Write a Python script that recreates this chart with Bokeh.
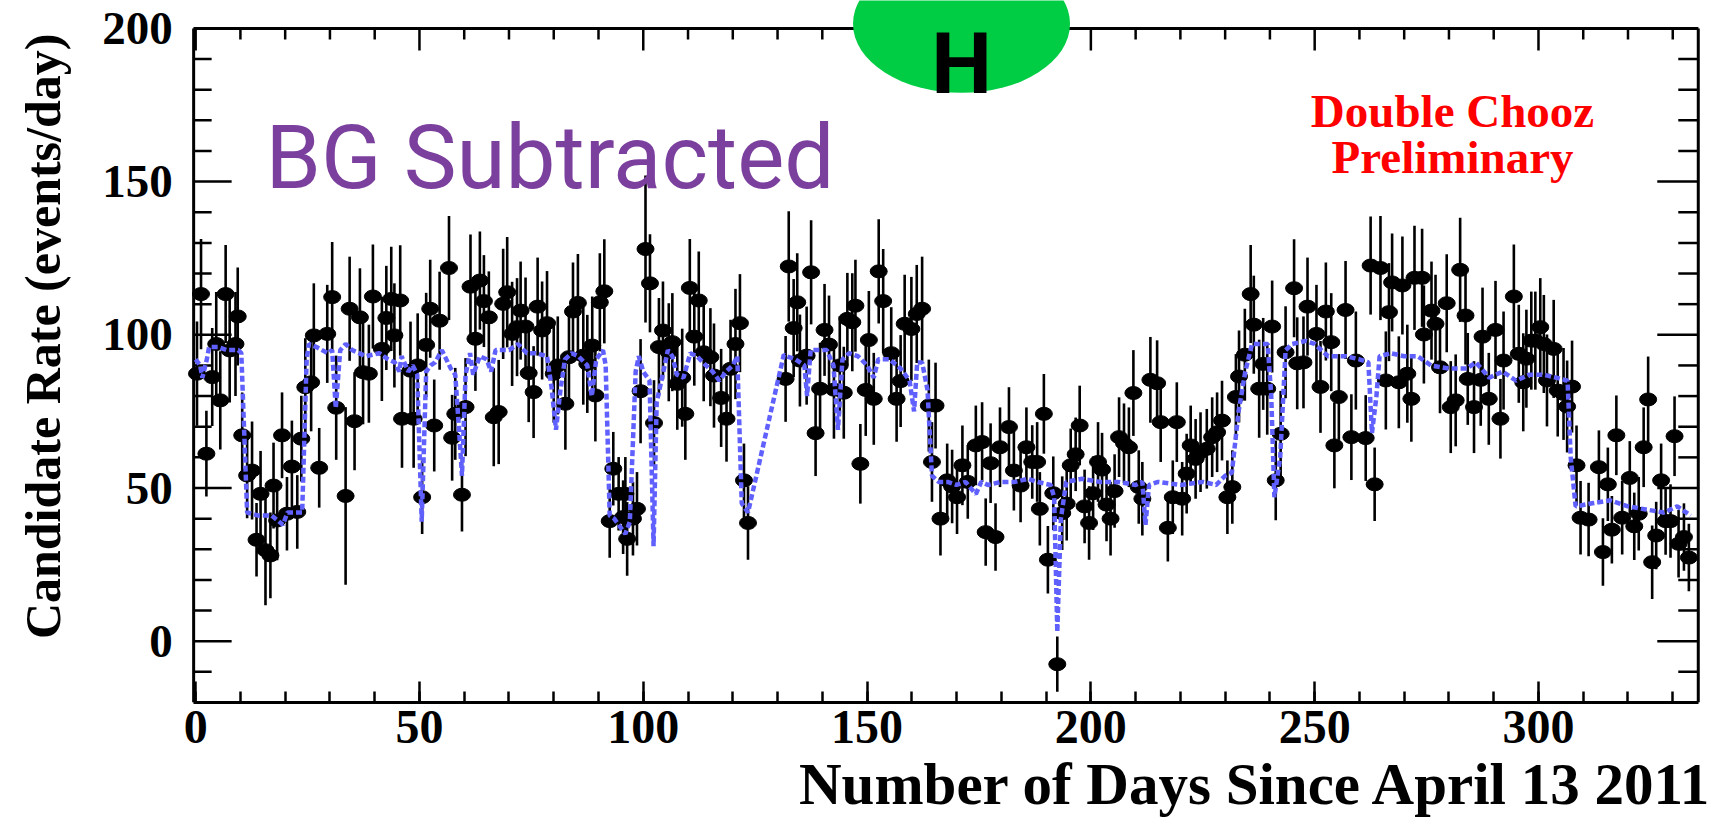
import numpy as np
from bokeh.plotting import figure
from bokeh.models import Range1d, FixedTicker, Label, Title, ColumnDataSource
from bokeh.embed import file_html
from bokeh.resources import INLINE

# ---- data ----
days = [
    0.3, 1.2, 2.4, 3.7, 4.6, 5.5, 6.7, 7.6, 8.9, 9.4,
    10.4, 11.5, 12.6, 13.6, 14.5, 15.6, 16.7, 17.4, 18.2, 19.3,
    20.4, 21.5, 22.7, 23.6, 24.5, 25.8, 26.4, 27.6, 29.4, 30.5,
    31.4, 33.5, 34.4, 35.5, 36.7, 37.4, 38.7, 39.6, 41.6, 42.6,
    43.7, 44.4, 45.7, 46.1, 48.0, 48.7, 49.6, 50.6, 51.5, 52.4,
    53.3, 54.5, 56.6, 57.3, 58.0, 59.5, 60.3, 61.4, 62.5, 63.5,
    64.4, 65.5, 66.6, 67.7, 68.7, 69.6, 70.7, 71.8, 72.6, 73.7,
    74.4, 75.5, 76.4, 77.4, 78.5, 80.0, 80.9, 82.6, 83.4, 84.3,
    85.4, 86.6, 87.5, 88.6, 89.3, 90.3, 91.3, 92.5, 93.3, 94.5,
    95.5, 96.0, 96.4, 97.7, 98.6, 99.4, 100.5, 101.5, 102.4, 103.5,
    104.4, 105.7, 106.5, 107.6, 108.7, 109.4, 110.4, 111.4, 112.4, 113.5,
    115.0, 115.8, 117.4, 118.6, 119.5, 120.6, 121.6, 122.5, 123.4, 131.8,
    132.5, 133.6, 134.4, 135.0, 136.5, 137.5, 138.5, 139.5, 140.5, 141.5,
    142.6, 143.9, 144.8, 145.6, 146.7, 147.4, 148.5, 149.7, 150.4, 151.5,
    152.6, 153.6, 155.4, 156.6, 157.5, 158.4, 159.9, 161.1, 162.3, 163.8,
    164.5, 165.3, 166.4, 167.9, 169.0, 170.1, 171.3, 172.5, 174.3, 175.7,
    176.5, 177.6, 178.7, 179.7, 181.7, 182.8, 184.3, 185.6, 186.9, 188.0,
    188.6, 189.5, 190.4, 191.6, 192.5, 193.6, 194.6, 195.5, 196.6, 197.5,
    198.6, 199.6, 200.5, 201.6, 202.5, 203.5, 204.4, 205.3, 206.3, 207.4,
    208.5, 209.5, 210.7, 211.5, 213.3, 214.8, 215.6, 217.2, 218.3, 219.2,
    220.4, 221.4, 222.3, 223.4, 224.5, 225.9, 227.1, 228.2, 229.3, 230.5,
    231.6, 232.4, 233.1, 234.4, 235.7, 236.4, 237.6, 238.5, 239.4, 240.5,
    241.3, 242.4, 243.5, 245.4, 246.1, 247.5, 248.4, 250.4, 251.3, 252.5,
    253.7, 254.4, 255.4, 256.9, 258.2, 259.2, 261.4, 262.5, 263.4, 264.7,
    265.9, 266.6, 267.3, 268.8, 269.6, 270.7, 271.6, 272.3, 274.0, 274.4,
    276.1, 277.0, 278.0, 279.5, 280.4, 281.5, 282.5, 283.7, 284.2, 285.6,
    287.1, 287.5, 288.9, 290.4, 291.5, 292.2, 294.5, 295.6, 296.6, 297.3,
    298.4, 299.3, 300.4, 301.2, 301.9, 303.4, 304.3, 305.6, 306.4, 307.5,
    308.5, 309.4, 311.2, 313.5, 314.4, 315.5, 316.4, 317.4, 318.7, 320.4,
    321.4, 322.4, 323.5, 324.5, 325.4, 326.3, 327.4, 328.4, 329.5, 330.4,
    331.3, 332.5, 333.6,
]

rate = [
    87.3, 113.3, 61.2, 86.2, 97.0, 78.6, 113.3, 94.9, 97.0, 106.0,
    67.2, 54.1, 55.7, 33.1, 48.1, 29.7, 28.0, 50.8, 39.4, 67.2,
    41.6, 57.0, 42.2, 66.1, 82.9, 84.5, 99.8, 56.6, 100.3, 112.3,
    76.2, 47.4, 108.5, 71.8, 105.7, 87.8, 87.3, 112.5, 95.4, 105.5,
    111.7, 99.8, 111.2, 72.6, 88.3, 72.6, 90.0, 47.0, 96.7, 108.5,
    70.4, 104.6, 121.8, 66.4, 74.2, 47.8, 76.4, 115.7, 98.7, 117.7,
    111.0, 105.7, 73.1, 74.8, 110.1, 113.9, 100.3, 102.5, 107.9, 102.7,
    87.5, 81.3, 109.2, 101.4, 103.8, 87.3, 90.0, 77.5, 92.7, 107.6,
    110.4, 93.2, 90.5, 96.5, 80.2, 110.6, 114.2, 39.2, 56.3, 48.1,
    40.5, 48.1, 33.4, 40.0, 43.2, 81.6, 128.0, 116.8, 71.2, 96.0,
    101.4, 94.3, 97.6, 84.0, 86.0, 74.2, 115.3, 99.4, 111.2, 94.3,
    92.7, 86.7, 79.4, 72.6, 88.9, 97.0, 103.8, 52.5, 38.6, 85.6,
    122.3, 102.2, 110.6, 91.6, 93.2, 120.4, 67.9, 82.4, 101.6, 96.8,
    82.1, 90.0, 81.1, 105.2, 104.1, 109.5, 57.9, 82.0, 98.3, 79.1,
    120.7, 111.0, 94.0, 79.1, 84.9, 103.6, 101.9, 106.8, 108.5, 76.9,
    58.5, 76.9, 40.0, 52.5, 50.5, 47.0, 57.4, 52.0, 63.9, 65.0,
    35.6, 58.1, 34.0, 63.3, 69.9, 55.7, 50.8, 63.3, 58.5, 58.5,
    43.2, 74.2, 26.6, 48.3, -7.5, 41.8, 44.9, 57.4, 61.0, 70.4,
    44.0, 38.6, 48.3, 58.5, 56.0, 44.6, 40.0, 49.0, 66.6, 64.6,
    63.3, 81.0, 50.3, 46.5, 85.3, 84.2, 71.5, 37.0, 47.0, 71.5,
    46.5, 54.7, 63.9, 59.5, 61.7, 62.8, 66.6, 68.2, 72.0, 47.0,
    50.3, 79.7, 86.4, 93.5, 113.3, 103.3, 82.4, 90.5, 82.4, 102.7,
    52.5, 67.7, 94.3, 115.2, 90.7, 91.0, 109.2, 100.3, 83.0, 107.6,
    97.6, 63.9, 79.7, 108.1, 66.6, 91.6, 66.3, 122.6, 51.2, 121.8,
    85.1, 107.4, 117.1, 84.5, 116.1, 87.3, 79.1, 118.6, 118.6, 100.1,
    107.9, 103.6, 89.4, 110.3, 76.4, 78.6, 121.2, 106.3, 85.6, 76.4,
    85.3, 99.4, 79.1, 101.6, 72.6, 91.6, 112.5, 93.8, 84.5, 92.2,
    98.1, 98.1, 102.5, 97.0, 85.1, 95.4, 81.8, 80.7, 76.6, 83.1,
    57.4, 40.3, 39.7, 56.8, 29.1, 51.2, 36.4, 67.2, 40.3, 53.3,
    37.5, 41.6, 63.3, 78.9, 25.8, 34.5, 52.5, 39.2, 39.2, 66.9,
    31.8, 34.0, 27.3,
]

err = [
    17, 18, 14, 16, 17, 16, 16, 17, 17, 16,
    14, 14, 16, 12, 14, 18, 14, 14, 13, 14,
    12, 15, 12, 14, 16, 16, 17, 13, 16, 18,
    17, 29, 17, 16, 16, 17, 16, 17, 17, 17,
    17, 17, 18, 16, 16, 16, 17, 12, 17, 16,
    15, 16, 17, 14, 15, 12, 16, 17, 17, 16,
    15, 15, 16, 17, 18, 18, 17, 16, 16, 16,
    16, 15, 16, 16, 17, 16, 16, 15, 16, 16,
    16, 16, 16, 16, 15, 16, 17, 12, 12, 12,
    12, 12, 12, 12, 12, 17, 24, 16, 14, 16,
    16, 16, 16, 15, 16, 15, 16, 16, 16, 16,
    16, 17, 16, 14, 16, 18, 16, 12, 12, 14,
    18, 16, 16, 15, 16, 17, 14, 15, 15, 16,
    16, 16, 15, 15, 16, 15, 13, 15, 16, 15,
    17, 17, 15, 14, 15, 16, 17, 16, 17, 15,
    13, 14, 12, 12, 12, 12, 13, 12, 13, 13,
    11, 13, 11, 13, 13, 13, 12, 13, 12, 13,
    12, 13, 11, 12, 9, 12, 12, 12, 12, 13,
    12, 12, 12, 13, 12, 12, 12, 12, 13, 13,
    13, 14, 12, 12, 14, 14, 13, 11, 12, 13,
    12, 13, 13, 13, 13, 13, 13, 13, 13, 12,
    12, 14, 15, 15, 16, 16, 16, 15, 15, 15,
    13, 14, 15, 16, 15, 15, 16, 16, 15, 16,
    16, 14, 14, 16, 14, 16, 14, 16, 12, 17,
    16, 16, 16, 15, 16, 16, 14, 17, 16, 16,
    16, 16, 15, 16, 15, 15, 17, 16, 15, 15,
    15, 16, 15, 16, 13, 16, 17, 16, 16, 16,
    16, 16, 16, 16, 15, 16, 15, 15, 15, 15,
    13, 12, 12, 12, 11, 12, 11, 13, 12, 12,
    11, 12, 13, 14, 12, 11, 12, 11, 12, 13,
    11, 11, 11,
]

exp_day = [
    0, 1, 1.5, 2.5, 3, 5, 7, 9.5, 10.2, 11.5,
    14, 17, 19.5, 20.5, 23.8, 24.8, 25.3, 27, 29.5, 30.5,
    31.3, 32.3, 33.5, 35, 38, 41, 43, 44.5, 45.5, 46,
    47.5, 48.5, 49.5, 50.5, 51.5, 52.5, 53.5, 55, 57, 58,
    58.8, 59.5, 60.3, 61.3, 62, 63.5, 65, 66, 67, 70,
    72, 74, 76, 78.5, 79.5, 80.5, 81.5, 82.5, 84, 85.5,
    87.5, 88.5, 89.5, 91, 91.6, 92.5, 93.5, 95, 96, 97,
    98.3, 99, 100, 101.4, 102.3, 103, 104.5, 105.5, 106.5, 107.5,
    109, 110.5, 112, 114, 115.5, 117, 118.5, 120, 121, 122,
    123.4, 131.4, 132, 134, 136, 136.6, 137.4, 139, 141, 142.5,
    143.5, 144.5, 146, 148, 150, 151.5, 152.5, 155, 157.5, 159.5,
    160.5, 161.2, 162.3, 163.5, 164.5, 166, 168, 170, 172, 174.3,
    175.5, 177, 180, 183, 186, 188, 191, 191.8, 192.5, 193.3,
    194.5, 198, 202, 206, 210, 211.5, 212.2, 213, 215, 220,
    225, 228, 230, 231.5, 233, 234.5, 236, 239.5, 240.3, 241,
    242.3, 243.5, 245, 248, 250, 253, 257, 260, 262, 262.8,
    263.8, 264.5, 267, 270, 273, 276, 280, 284, 286, 289,
    292, 295, 298, 301, 304, 306.5, 307.2, 308.3, 312, 316,
    320, 324, 328, 331, 334,
]

exp_rate = [
    92, 90, 86, 92, 96, 96, 95, 95, 94, 42,
    41, 41, 38, 42, 42, 92, 97, 96, 94, 95,
    76, 95, 97, 95, 93, 94, 92, 91, 88, 93,
    88, 90, 87, 39, 88, 90, 91, 95, 89, 87,
    70, 54, 87, 94, 87, 93, 92, 88, 95, 95,
    97, 94, 94, 93, 83, 69, 82, 92, 94, 93,
    90, 80, 92, 95, 90, 41, 40, 37, 35, 39,
    88, 93, 88, 85, 31, 78, 88, 95, 93, 87,
    86, 94, 93, 90, 88, 85, 88, 90, 93, 45,
    42, 93.5, 93, 92, 90, 80, 95, 95, 95, 90,
    69, 92, 94, 93, 90, 86, 92, 92, 89, 85,
    75, 91, 91, 82, 54, 52, 52, 51, 52, 48,
    52, 51, 52, 52, 53, 52, 51, 47, 3, 40,
    52, 53, 52, 52, 51, 52, 38, 51, 52, 51,
    52, 51, 54, 55, 75, 88, 97, 97, 80, 47,
    60, 95, 97, 98, 97, 93, 93, 92, 91, 68,
    80, 93, 94, 93, 93, 90, 89, 89, 91, 86,
    88, 85, 87, 87, 86, 85, 60, 44, 45, 46,
    44, 43, 42, 44, 41,
]

x_major = [0, 50, 100, 150, 200, 250, 300]
y_major = [0, 50, 100, 150, 200]
y_labels = ["0", "50", "100", "150", "200"]
x_minor = list(range(0, 336, 10))
y_minor = list(range(-20, 201, 10))

# extent (data units) of the drawn box
X0, X1 = -0.45, 335.7
Y0, Y1 = -20.0, 200.0

SERIF = "Liberation Serif"

# ---- figure: the frame covers the whole width and reaches the top edge, so that the
# left labels, the y title and the badge (which overlaps the box) are drawn inside it ----
XR0, XR1 = -43.6, 342.9
YR0, YR1 = -20.0, 209.1
FW, FH = 1730, 702
p = figure(frame_width=FW, frame_height=FH,
           min_border_left=0, min_border_right=0, min_border_top=0, min_border_bottom=128,
           x_range=Range1d(XR0, XR1), y_range=Range1d(YR0, YR1), y_axis_location=None,
           output_backend="svg", toolbar_location=None)
p.title.visible = False
p.grid.visible = False
p.outline_line_color = None
p.background_fill_color = "white"
p.border_fill_color = "white"

px_x = FW / (XR1 - XR0)
px_y = FH / (YR1 - YR0)

ax = p.xaxis[0]
ax.ticker = FixedTicker(ticks=x_major, minor_ticks=x_minor)
ax.bounds = (X0, X1)
ax.axis_line_width = 3
ax.axis_line_color = "black"
ax.major_tick_line_width = 2.5
ax.minor_tick_line_width = 2.5
ax.major_tick_in = 21
ax.major_tick_out = 0
ax.minor_tick_in = 11
ax.minor_tick_out = 0
ax.major_label_text_font = SERIF
ax.major_label_text_font_style = "bold"
ax.major_label_text_color = "black"
ax.major_label_standoff = 8
ax.major_label_text_font_size = "48px"
ax.axis_label = None

# left, top and right sides of the box, with inward ticks
p.segment(x0=[X0], y0=[Y0], x1=[X0], y1=[Y1], line_color="black", line_width=3)
p.segment(x0=[X0], y0=[Y1], x1=[X1], y1=[Y1], line_color="black", line_width=3)
p.segment(x0=[X1], y0=[Y0], x1=[X1], y1=[Y1], line_color="black", line_width=3)
top_len = [22 / px_y if t in x_major else 11 / px_y for t in x_minor]
p.segment(x0=x_minor, y0=[Y1] * len(x_minor), x1=x_minor, y1=[Y1 - L for L in top_len],
          line_color="black", line_width=2.5)
left_len = [38 / px_x if t in y_major else 18 / px_x for t in y_minor]
p.segment(x0=[X0] * len(y_minor), y0=y_minor, x1=[X0 + L for L in left_len], y1=y_minor,
          line_color="black", line_width=2.5)
right_len = [41 / px_x if t in y_major else 20 / px_x for t in y_minor]
p.segment(x0=[X1] * len(y_minor), y0=y_minor, x1=[X1 - L for L in right_len], y1=y_minor,
          line_color="black", line_width=2.5)
# y tick labels
p.text(x=[X0 - 21 / px_x] * len(y_major), y=y_major, text=y_labels,
       text_font={"value": SERIF}, text_font_style="bold", text_font_size="47px",
       text_color="black", text_align="right", text_baseline="middle")

# ---- data ----
src = ColumnDataSource(dict(
    day=days, rate=rate,
    lo=[r - e for r, e in zip(rate, err)],
    hi=[r + e for r, e in zip(rate, err)],
))
p.segment(x0="day", y0="lo", x1="day", y1="hi", source=src, line_color="black", line_width=2.6)
p.ellipse(x="day", y="rate", width=17, height=13, width_units="screen", height_units="screen",
          source=src, fill_color="black", line_color="black")
p.line(exp_day, exp_rate, line_color="#6060ff", line_width=4.5, line_dash="6 3")

# ---- texts ----
p.add_layout(Label(x=15.6, y=157.8, text="BG Subtracted", text_font="Roboto",
                   text_font_size="89px", text_color="#7b3f9e",
                   text_align="left", text_baseline="alphabetic"))
p.add_layout(Label(x=280.8, y=173.1, text="Double Chooz", text_font=SERIF, text_font_style="bold",
                   text_font_size="47px", text_color="#ff0000",
                   text_align="center", text_baseline="alphabetic"))
p.add_layout(Label(x=280.8, y=158.1, text="Preliminary", text_font=SERIF, text_font_style="bold",
                   text_font_size="47px", text_color="#ff0000",
                   text_align="center", text_baseline="alphabetic"))

# green badge with "H"
p.ellipse(x=[171.1], y=[201.5], width=217, height=138, width_units="screen", height_units="screen",
          fill_color="#00cc44", line_color=None)
p.add_layout(Label(x=171.1, y=188.5, text="H", text_font="Roboto", text_font_style="bold",
                   text_font_size="86px", text_color="black",
                   text_align="center", text_baseline="alphabetic"))

# axis titles
p.add_layout(Label(x=-34.2, y=198.3, text="Candidate Rate (events/day)", text_font=SERIF,
                   text_font_style="bold", text_font_size="50px", text_color="black",
                   angle=np.pi / 2, text_align="right", text_baseline="middle"))
p.add_layout(Title(text="Number of Days Since April 13 2011", align="right", offset=17, standoff=6,
                   text_font=SERIF, text_font_style="bold", text_font_size="59px",
                   text_color="black"), "below")

open("out.html", "w").write(file_html(p, INLINE))
